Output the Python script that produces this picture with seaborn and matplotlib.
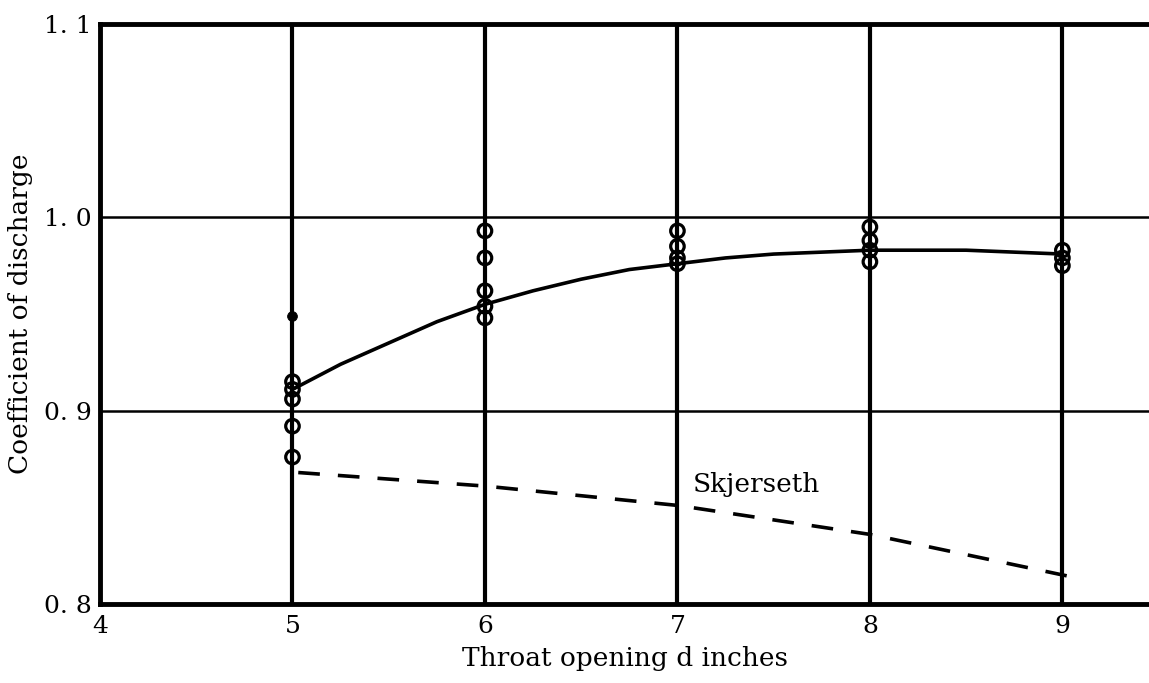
import numpy as np
import pandas as pd
import matplotlib
matplotlib.use("Agg")
import matplotlib.pyplot as plt
from matplotlib.ticker import FuncFormatter
import seaborn as sns

# Measured coefficients of discharge at each throat opening
obs_x = [5, 5, 5, 5, 5, 6, 6, 6, 6, 6, 7, 7, 7, 7, 8, 8, 8, 8, 9, 9, 9]
obs_y = [0.915, 0.911, 0.906, 0.892, 0.876,
         0.993, 0.979, 0.962, 0.954, 0.948,
         0.993, 0.985, 0.979, 0.976,
         0.995, 0.988, 0.983, 0.977,
         0.983, 0.979, 0.975]
# Single filled point
dot_x = [5]
dot_y = [0.949]

# Fitted curve through the measurements
fit_x = [5.0, 5.25, 5.5, 5.75, 6.0, 6.25, 6.5, 6.75, 7.0, 7.25, 7.5, 7.75, 8.0, 8.25, 8.5, 8.75, 9.0]
fit_y = [0.911, 0.924, 0.935, 0.946, 0.955, 0.962, 0.968, 0.973, 0.976, 0.979, 0.981, 0.982, 0.983, 0.983, 0.983, 0.982, 0.981]

# Skjerseth relation
sk_x = [5.03, 6.0, 7.0, 8.0, 9.05]
sk_y = [0.868, 0.861, 0.851, 0.836, 0.814]

x_ticks = [4, 5, 6, 7, 8, 9]
y_ticks = [0.8, 0.9, 1.0, 1.1]

sns.set_theme(style="white")
plt.rcParams["font.family"] = ["DejaVu Serif"]

fig = plt.figure(figsize=(11.49, 6.83), dpi=100)
ax = fig.add_axes([100 / 1149, 1 - 604 / 683, 1 - 100 / 1149, (604 - 24) / 683])

ax.set_xlim(4, 9.45)
ax.set_ylim(0.8, 1.1)
ax.set_xticks(x_ticks)
ax.set_yticks(y_ticks)
ax.yaxis.set_major_formatter(FuncFormatter(lambda v, p: f"{v:.1f}".replace(".", ". ")))
ax.tick_params(axis="both", length=0, labelsize=18, colors="black")
ax.tick_params(axis="x", pad=8)
ax.tick_params(axis="y", pad=6)

ax.xaxis.grid(True, color="black", linewidth=3)
ax.yaxis.grid(True, color="black", linewidth=1.8)
ax.set_axisbelow(True)

for side in ["left", "bottom", "top"]:
    ax.spines[side].set_color("black")
    ax.spines[side].set_linewidth(3.5)
ax.spines["right"].set_visible(False)

sns.lineplot(x=fit_x, y=fit_y, ax=ax, color="black", linewidth=2.6, sort=True)
sns.lineplot(x=sk_x, y=sk_y, ax=ax, color="black", linewidth=2.6, sort=True,
             linestyle=(0, (6, 5)))
sns.scatterplot(x=obs_x, y=obs_y, ax=ax, marker="o", s=95,
                facecolor="none", edgecolor="black", linewidth=2.3, zorder=5)
sns.scatterplot(x=dot_x, y=dot_y, ax=ax, marker="o", s=50,
                color="black", edgecolor="black", zorder=5)

ax.text(7.08, 0.862, "Skjerseth", fontsize=19, color="black", va="center", ha="left")

ax.set_xlabel("Throat opening d inches", fontsize=19, color="black", labelpad=6)
ax.set_ylabel("Coefficient of discharge", fontsize=19, color="black", labelpad=8)

fig.savefig("out.png", dpi=100, facecolor="white")
